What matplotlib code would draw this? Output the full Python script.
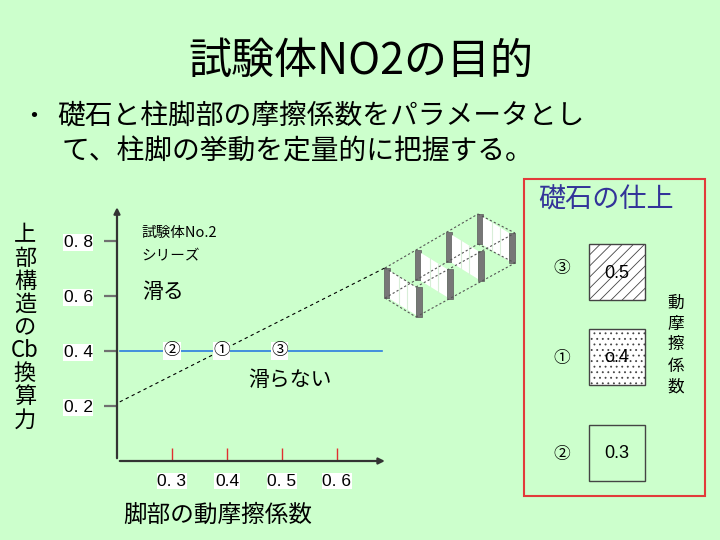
import matplotlib
matplotlib.use('Agg')
import matplotlib.pyplot as plt
from matplotlib.patches import Rectangle, Polygon

plt.rcParams['font.family'] = ['Noto Sans CJK JP', 'DejaVu Sans']
plt.rcParams['hatch.linewidth'] = 0.6

BG = '#ccffcc'

# chart values
y_ticks = [0.2, 0.4, 0.6, 0.8]
y_tick_labels = ['0. 2', '0. 4', '0. 6', '0. 8']
x_ticks = [0.3, 0.4, 0.5, 0.6]
x_tick_labels = ['0. 3', '0.4', '0. 5', '0. 6']
cb_level = 0.4
series_labels = ['②', '①', '③']
series_mu = [0.30, 0.39, 0.495]
boundary_mu = [0.205, 0.687]
boundary_cb = [0.215, 0.702]

# right panel values
finish_labels = ['③', '①', '②']
finish_mu = ['0.5', 'o.4', '0.3']
finish_hatch = ['///', '...', None]

ylabel_rows = ['上', '部', '構', '造', 'の', 'Cb', '換', '算', '力']
side_rows = ['動', '摩', '擦', '係', '数']


def draw_frame(ov):
    # small isometric sketch of the test frame
    back = [(385, 268), (416, 250), (447, 232), (478, 214)]
    front = [(416, 287), (447, 269), (478, 251), (509, 233)]
    H = 30
    ls = (0, (2, 2))
    for (x, y) in back:
        ov.add_patch(Rectangle((x - 1, y), 6, H, fc='#777777', ec='#5a5a5a', lw=0.5))
    for b, f in zip(back, front):
        ov.add_patch(Polygon([(b[0] + 5, b[1] + 3), (f[0], f[1]), (f[0], f[1] + H - 2),
                              (b[0] + 5, b[1] + H + 1)], fc='white', ec='none'))
        for t in (0.33, 0.66):
            xx = b[0] + 5 + t * (f[0] - b[0] - 5)
            yt = b[1] + 3 + t * (f[1] - b[1] - 3)
            ov.plot([xx, xx], [yt, yt + H - 2], color='#d8eed8', lw=0.8)
    for (x, y) in front:
        ov.add_patch(Rectangle((x, y), 6, H, fc='#777777', ec='#5a5a5a', lw=0.5))
    for dy in (0, H):
        ov.plot([back[0][0], back[-1][0]], [back[0][1] + dy, back[-1][1] + dy], color='#555555', lw=0.8, ls=ls)
        ov.plot([front[0][0], front[-1][0] + 6], [front[0][1] + dy, front[-1][1] + dy], color='#555555', lw=0.8, ls=ls)
        ov.plot([back[0][0], front[0][0]], [back[0][1] + dy, front[0][1] + dy], color='#555555', lw=0.8, ls=ls)
        ov.plot([back[-1][0], front[-1][0] + 6], [back[-1][1] + dy, front[-1][1] + dy], color='#555555', lw=0.8, ls=ls)


fig = plt.figure(figsize=(7.2, 5.4), dpi=100, facecolor=BG)

ov = fig.add_axes([0, 0, 1, 1])
ov.set_xlim(0, 720)
ov.set_ylim(540, 0)
ov.axis('off')

# chart
ax = fig.add_axes([117 / 720, 79 / 540, 268 / 720, 254 / 540])
ax.set_facecolor('none')
ax.set_xlim(0.2, 0.6873)
ax.set_ylim(0, 0.9236)
for s in ax.spines.values():
    s.set_visible(False)
ax.annotate('', xy=(0, 1.01), xytext=(0, 0), xycoords='axes fraction',
            arrowprops=dict(arrowstyle='-|>', color='#333333', lw=1.6, mutation_scale=9))
ax.annotate('', xy=(1.01, 0), xytext=(0, 0), xycoords='axes fraction',
            arrowprops=dict(arrowstyle='-|>', color='#333333', lw=1.6, mutation_scale=9))

ax.set_yticks(y_ticks)
ax.set_yticklabels(y_tick_labels, family='Liberation Sans', fontsize=12.5)
ax.tick_params(axis='y', direction='out', length=9.5, width=1.6, color='#707070', pad=8)
ax.set_xticks(x_ticks)
ax.set_xticklabels(x_tick_labels, family='Liberation Sans', fontsize=12.5)
ax.tick_params(axis='x', direction='in', length=9.5, width=1, color='#e03030', pad=9)
for lab in ax.get_yticklabels() + ax.get_xticklabels():
    lab.set_bbox(dict(facecolor='white', edgecolor='none', pad=0.5))

ax.axhline(cb_level, xmin=0.01, xmax=0.99, color='#2a7be0', lw=1.2)
ax.plot(boundary_mu, boundary_cb, color='black', lw=0.8, ls=(0, (3, 3)), clip_on=False)
for lab, mu in zip(series_labels, series_mu):
    ax.text(mu, cb_level, lab, ha='center', va='center', fontsize=12,
            bbox=dict(facecolor='white', edgecolor='none', pad=0.3))

ax.text(0.245, 0.829, '試験体No.2', fontsize=10.5, va='center')
ax.text(0.245, 0.745, 'シリーズ', fontsize=10.5, va='center')
ax.text(0.246, 0.615, '滑る', fontsize=15, va='center')
ax.text(0.438, 0.295, '滑らない', fontsize=15, va='center')

# axis titles
for i, ch in enumerate(ylabel_rows):
    ov.text(25, 235 + i * 23.1, ch, fontsize=16, ha='center', va='center')
ov.text(218, 515, '脚部の動摩擦係数', fontsize=17, ha='center', va='center')

# slide text
ov.text(361, 62, '試験体NO2の目的', fontsize=31, ha='center', va='center')
ov.text(34, 117, '・', fontsize=18, ha='center', va='center')
ov.text(57, 117, '礎石と柱脚部の摩擦係数をパラメータとし', fontsize=20, va='center')
ov.text(62, 151, 'て、柱脚の挙動を定量的に把握する。', fontsize=20, va='center')

draw_frame(ov)

# right panel
ov.add_patch(Rectangle((524, 179), 181, 317, fill=False, ec='#e23a3a', lw=1.5))
ov.text(538, 200, '礎石の仕上', fontsize=19.5, color='#333399', va='center')
box_tops = [244, 329, 425]
label_y = [268, 358, 455]
for top, ly, lab, mu, h in zip(box_tops, label_y, finish_labels, finish_mu, finish_hatch):
    ov.add_patch(Rectangle((589, top), 56, 56, fc='white' if h else 'none',
                           ec='#444444', lw=1, hatch=h))
    ov.text(617, top + 29, mu, family='Liberation Sans', fontsize=13, ha='center', va='center')
    ov.text(562, ly, lab, fontsize=12, ha='center', va='center')
for i, ch in enumerate(side_rows):
    ov.text(676, 303 + i * 21, ch, fontsize=12, ha='center', va='center')

fig.savefig('out.png', dpi=100, facecolor=BG)
